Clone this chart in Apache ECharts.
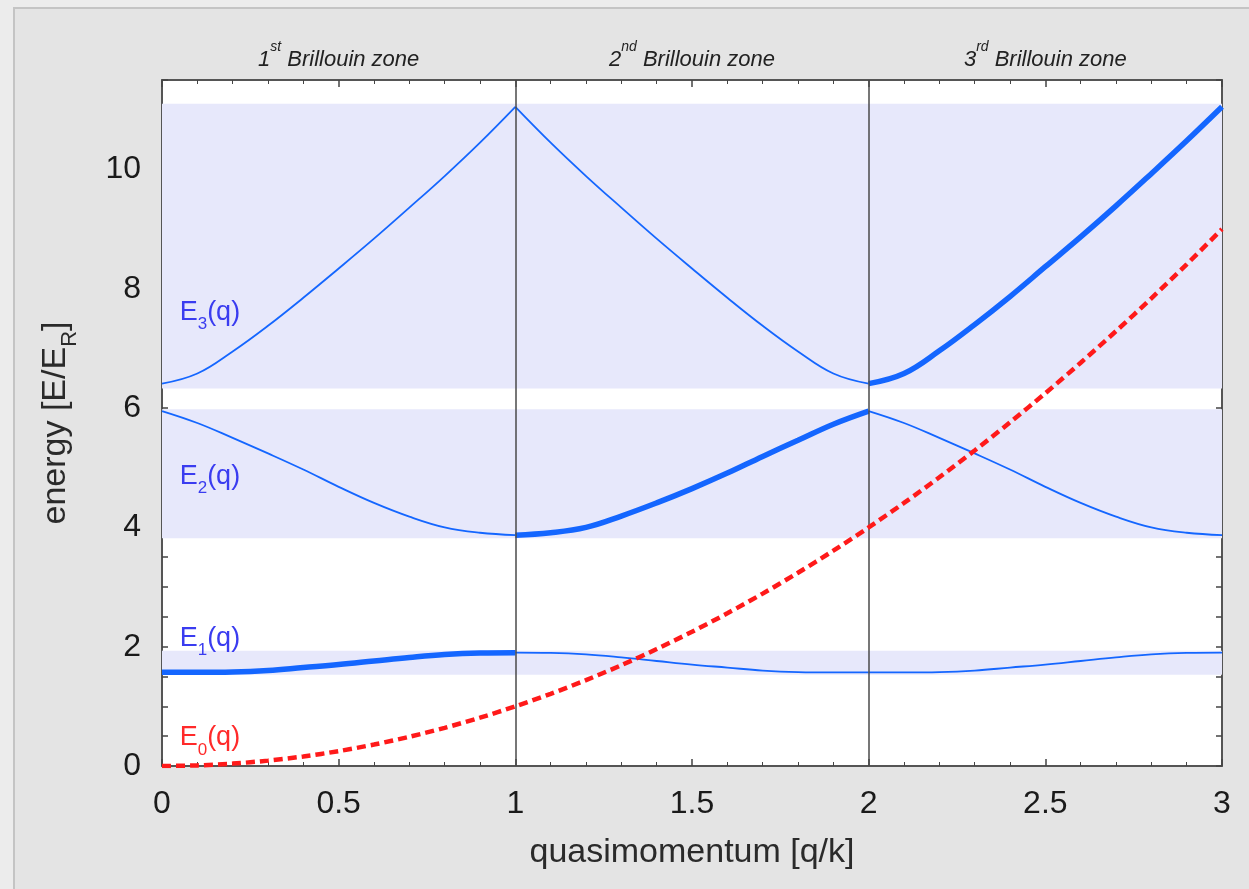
<!DOCTYPE html>
<html>
<head>
<meta charset="utf-8">
<script src="https://cdn.jsdelivr.net/npm/echarts@6/dist/echarts.min.js"></script>
<style>
html,body{margin:0;padding:0;background:#ececec;}
#c{width:1249px;height:889px;}
</style>
</head>
<body>
<div id="c"></div>
<script>
// quasimomentum sample points
const q = [0,0.1,0.2,0.3,0.4,0.5,0.6,0.7,0.8,0.9,1.0,1.1,1.2,1.3,1.4,1.5,1.6,1.7,1.8,1.9,2.0,2.1,2.2,2.3,2.4,2.5,2.6,2.7,2.8,2.9,3.0];
// free particle energy E0(q)
const E0 = [0,0.01,0.04,0.09,0.16,0.25,0.36,0.49,0.64,0.81,1.0,1.21,1.44,1.69,1.96,2.25,2.56,2.89,3.24,3.61,4.0,4.41,4.84,5.29,5.76,6.25,6.76,7.29,7.84,8.41,9.0];
// Bloch bands (repeated zone scheme)
const E1 = [1.57,1.57,1.575,1.60,1.65,1.70,1.76,1.82,1.87,1.895,1.90,1.895,1.87,1.82,1.76,1.70,1.65,1.60,1.575,1.57,1.57,1.57,1.575,1.60,1.65,1.70,1.76,1.82,1.87,1.895,1.90];
const E2 = [5.95,5.75,5.50,5.24,4.97,4.68,4.41,4.18,4.00,3.91,3.87,3.91,4.00,4.19,4.41,4.65,4.91,5.19,5.46,5.73,5.95,5.75,5.50,5.24,4.97,4.68,4.41,4.18,4.00,3.91,3.87];
const E3 = [6.41,6.58,6.95,7.38,7.85,8.34,8.84,9.36,9.89,10.45,11.05,10.45,9.89,9.36,8.84,8.34,7.85,7.38,6.95,6.58,6.41,6.58,6.96,7.40,7.87,8.37,8.87,9.39,9.93,10.48,11.05];
// allowed energy bands [lower, upper]
const bands = [[1.53,1.93],[3.82,5.98],[6.33,11.1]];
// Brillouin zone boundaries
const zoneBounds = [1,2];
const zoneNames = {0.5:'1{sup|st} Brillouin zone',1.5:'2{sup|nd} Brillouin zone',2.5:'3{sup|rd} Brillouin zone'};
// band labels [name, q, E]
const bandLabels = [['E{s|3}(q)',0.05,7.6],['E{s|2}(q)',0.05,4.86],['E{s|1}(q)',0.05,2.14]];
const e0Label = ['E{s|0}(q)',0.05,0.47];

const BLUE = '#1466ff';
const LBLUE = '#3a3cf0';
function seg(arr, i0, i1){ const o=[]; for(let i=i0;i<=i1;i++) o.push([q[i],arr[i]]); return o; }
const zoneIdx = [[0,10],[10,20],[20,30]];
const bandArr = [E1,E2,E3];
const series = [];
series.push({
  type:'line', data:[], silent:true,
  markArea:{silent:true, itemStyle:{color:'#e7e8fb'},
    data: bands.map(b=>[{yAxis:b[0]},{yAxis:b[1]}])},
  markLine:{silent:true, symbol:'none', label:{show:false},
    lineStyle:{color:'#4a4a4a', width:1.5, type:'solid'},
    data: zoneBounds.map(v=>({xAxis:v}))}
});
bandArr.forEach((arr,bi)=>{
  zoneIdx.forEach((z,zi)=>{
    const thick = (zi===bi);
    series.push({type:'line', data:seg(arr,z[0],z[1]), showSymbol:false, smooth:0.4, silent:true,
      lineStyle:{color:BLUE, width: thick?5.5:1.8}, z: thick?4:3});
  });
});
series.push({type:'line', data:q.map((v,i)=>[v,E0[i]]), showSymbol:false, smooth:0.3, silent:true,
  lineStyle:{color:'#ff1a1a', width:4.5, type:[9,5]}, z:5});
const richSub = (c)=>({s:{fontSize:17, color:c, verticalAlign:'bottom', padding:[0,0,-7,0], fontFamily:'Liberation Sans'}});
series.push({type:'scatter', data:[], silent:true,
  markPoint:{symbol:'circle', symbolSize:0, silent:true,
    label:{show:true, position:'right', distance:0, fontSize:27, color:LBLUE, fontFamily:'Liberation Sans',
      rich:richSub(LBLUE)},
    data: bandLabels.map(l=>({coord:[l[1],l[2]], label:{formatter:l[0]}}))}
});
series.push({type:'scatter', data:[], silent:true,
  markPoint:{symbol:'circle', symbolSize:0, silent:true,
    label:{show:true, position:'right', distance:0, fontSize:27, color:'#ff2a2a', fontFamily:'Liberation Sans',
      rich:richSub('#ff2a2a')},
    data: [{coord:[e0Label[1],e0Label[2]], label:{formatter:e0Label[0]}}]}
});

const axisLine = {show:true, onZero:false, lineStyle:{color:'#555', width:2}};
const chart = echarts.init(document.getElementById('c'));
chart.setOption({
  backgroundColor:'#ececec',
  animation:false,
  graphic:[{type:'rect', shape:{x:14,y:8,width:1260,height:900}, style:{fill:'#e4e4e4', stroke:'#c4c4c4', lineWidth:2}, z:-10, silent:true}],
  grid:{left:162, right:27, top:80, bottom:123, show:true, backgroundColor:'#ffffff', borderWidth:0},
  xAxis:[
    {type:'value', min:0, max:3, interval:0.5, position:'bottom', axisLine:axisLine,
     axisTick:{inside:true, length:7, lineStyle:{color:'#444', width:1.5}},
     minorTick:{show:true, splitNumber:5, length:4, lineStyle:{color:'#444', width:1}},
     splitLine:{show:false},
     axisLabel:{fontSize:32, color:'#1a1a1a', margin:22, fontFamily:'Liberation Sans', formatter:v=>String(v)},
     name:'quasimomentum [q/k]', nameLocation:'middle', nameGap:70,
     nameTextStyle:{fontSize:34, color:'#2a2a2a', fontFamily:'Liberation Sans'}},
    {type:'value', min:0, max:3, interval:0.5, position:'top', axisLine:axisLine,
     axisTick:{inside:true, length:7, lineStyle:{color:'#444', width:1.5}},
     minorTick:{show:true, splitNumber:5, length:4, lineStyle:{color:'#444', width:1}},
     splitLine:{show:false},
     axisLabel:{show:true, margin:9, fontSize:22, fontStyle:'italic', color:'#222', fontFamily:'Liberation Sans',
       formatter:v=>zoneNames[v]||'',
       rich:{sup:{fontSize:14, fontStyle:'italic', verticalAlign:'top', padding:[-9,0,0,0], color:'#222', fontFamily:'Liberation Sans'}}}}
  ],
  yAxis:[
    {type:'value', min:0, max:11.5, interval:0.5, position:'left', axisLine:axisLine,
     axisTick:{inside:true, length:6, lineStyle:{color:'#444', width:1.5}},
     splitLine:{show:false},
     axisLabel:{fontSize:32, color:'#1a1a1a', margin:21, fontFamily:'Liberation Sans',
       formatter:v=>(Math.abs(v%2)<1e-9 && v<=10)?String(v):''},
     name:'energy [E/E{sub|R}]', nameLocation:'middle', nameGap:89,
     nameTextStyle:{fontSize:34, color:'#2a2a2a', fontFamily:'Liberation Sans',
       rich:{sub:{fontSize:22, color:'#2a2a2a', verticalAlign:'bottom', padding:[0,0,-8,0], fontFamily:'Liberation Sans'}}}},
    {type:'value', min:0, max:11.5, interval:0.5, position:'right', axisLine:axisLine,
     axisTick:{inside:true, length:6, lineStyle:{color:'#444', width:1.5}},
     splitLine:{show:false}, axisLabel:{show:false}}
  ],
  series: series
});
</script>
</body>
</html>
